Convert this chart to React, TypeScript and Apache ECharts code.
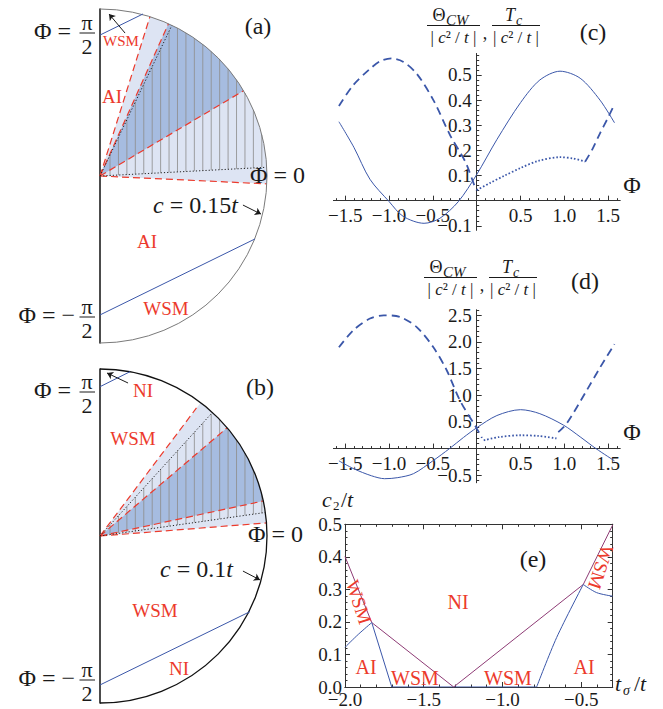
import React, { useEffect, useRef } from "react";
import * as echarts from "echarts";

// ---------------- Panel (a): c = 0.15t  (angles in degrees, radii in units of the circle) ----------------
const lightWedgeA = [-2.7, 72.6];
const darkWedgeA = [30.7, 65.8];
const redDashA = [[72.6, 1], [65.8, 1], [30.7, 1], [-2.7, 1]];
const dottedA = [[64.5, 1], [3.0, 0.99]];
const hatchA = [3.0, 64.5];
const blueChordsA = [
  [[0, 0.844], [0.257, 0.97]],
  [[0, -0.832], [0.928, -0.377]],
];
const arrowsA = [
  [[0.15, 0.856], [0.054, 0.97]],
  [[0.856, -0.174], [0.964, -0.228]],
];

// ---------------- Panel (b): c = 0.1t ----------------
const lightWedgeB = [4.5, 53];
const darkWedgeB = [12.1, 40.4];
const redDashB = [[53, 0.96], [40.4, 1], [12.1, 1], [4.5, 1]];
const dottedB = [[47.7, 1], [8.1, 1]];
const hatchB = [8.1, 47.7];
const blueChordsB = [
  [[0, 0.894], [0.18, 0.984]],
  [[0, -0.892], [0.898, -0.453]],
];
const arrowsB = [
  [[0.168, 0.916], [0.042, 0.976]],
  [[0.856, -0.21], [0.958, -0.263]],
];

// ---------------- Panel (c) ----------------
const solidC = [
  [-1.571, 0.314], [-1.4, 0.212], [-1.217, 0.085], [-1.0, -0.003], [-0.84, -0.062], [-0.6, -0.09],
  [-0.42, -0.07], [-0.21, -0.004], [0, 0.104], [0.23, 0.243], [0.5, 0.39], [0.72, 0.48],
  [0.95, 0.515], [1.18, 0.487], [1.406, 0.4], [1.571, 0.31],
];
const dashedC1 = [
  [-1.571, 0.377], [-1.407, 0.46], [-1.23, 0.52], [-1.1, 0.555], [-0.97, 0.566], [-0.84, 0.553],
  [-0.684, 0.505], [-0.494, 0.4], [-0.3, 0.258], [-0.13, 0.155], [-0.02, 0.055], [0, 0.042],
];
const dottedC = [
  [0, 0.042], [0.15, 0.07], [0.32, 0.1], [0.5, 0.13], [0.7, 0.158], [0.95, 0.173], [1.1, 0.168], [1.236, 0.155],
];
const dashedC2 = [[1.236, 0.155], [1.32, 0.205], [1.406, 0.268], [1.49, 0.325], [1.571, 0.383]];

// ---------------- Panel (d) ----------------
const solidD = [
  [-1.571, -0.23], [-1.4, -0.38], [-1.2, -0.51], [-1.05, -0.565], [-0.9, -0.545], [-0.72, -0.47],
  [-0.5, -0.23], [-0.31, 0.0], [-0.15, 0.21], [0, 0.39], [0.23, 0.62], [0.5, 0.73], [0.72, 0.655],
  [0.99, 0.44], [1.18, 0.22], [1.36, 0.0], [1.571, -0.23],
];
const dashedD1 = [
  [-1.571, 1.9], [-1.407, 2.22], [-1.217, 2.44], [-1.06, 2.5], [-0.875, 2.47], [-0.684, 2.28],
  [-0.494, 1.9], [-0.342, 1.47], [-0.19, 0.9], [0, 0.38], [0.06, 0.2],
];
const dottedD = [[0.08, 0.155], [0.25, 0.215], [0.5, 0.25], [0.7, 0.237], [0.91, 0.19]];
const dashedD2 = [[0.93, 0.31], [1.026, 0.47], [1.254, 1.09], [1.41, 1.53], [1.571, 1.96]];

// ---------------- Panel (e) ----------------
const purpleE = [[-2.0, 0.401], [-1.83, 0.198], [-1.31, 0.0], [-0.487, 0.315], [-0.3, 0.498]];
const blueE1 = [[-2.0, 0.122], [-1.915, 0.162], [-1.83, 0.198]];
const blueE2 = [[-1.83, 0.198], [-1.703, 0.0]];
const blueE3 = [[-0.783, 0.0], [-0.656, 0.152], [-0.487, 0.315]];
const blueE4 = [[-0.487, 0.315], [-0.402, 0.29], [-0.3, 0.279]];
const blueE5 = [[-1.703, 0.0], [-0.783, 0.0]];

// ---------------- Ticks ----------------
const range = (a: number, b: number, s: number) => {
  const out: number[] = [];
  const n = Math.round((b - a) / s);
  for (let i = 0; i <= n; i++) out.push(+(a + i * s).toFixed(4));
  return out;
};
const phiMajor = [-1.5, -1, -0.5, 0.5, 1, 1.5];
const phiMinor = range(-1.6, 1.6, 0.1);
const cMajor = [-0.1, 0.1, 0.2, 0.3, 0.4, 0.5];
const cMinor = range(-0.1, 0.58, 0.02);
const dMajor = [-0.5, 0.5, 1, 1.5, 2, 2.5];
const dMinor = range(-0.6, 2.6, 0.1);
const eXMajor = [-2, -1.5, -1, -0.5];
const eXMinor = range(-2, -0.3, 0.1);
const eYMajor = [0, 0.1, 0.2, 0.3, 0.4, 0.5];
const eYMinor = range(0, 0.5, 0.02);

// ---------------- Styles ----------------
const SERIF = "Liberation Serif";
const INK = "#1a1a1a";
const BLUE = "#3b57a9";
const PURPLE = "#8e3b75";
const RED = "#ec3a2c";
const LIGHT = "#dde4f3";
const DARK = "#a6bce0";
const HATCH = "#8f8f8f";
const AXC = "#333";
const D = Math.PI / 180;

const fmt = (v: number) => (v < 0 ? "\u2212" : "") + Math.abs(v).toFixed(1);

function txt(x: number, y: number, text: string, size: number, o: any = {}) {
  const rich = o.rich
    ? { i: { fontStyle: "italic", fontFamily: SERIF, fontSize: size, fill: o.color || INK } }
    : undefined;
  return {
    type: "text",
    x,
    y,
    rotation: o.rot || 0,
    z: 100,
    silent: true,
    style: {
      text,
      fill: o.color || INK,
      fontSize: size,
      fontFamily: SERIF,
      fontStyle: o.italic ? "italic" : "normal",
      align: o.align || "center",
      verticalAlign: "middle",
      rich,
    },
  };
}
function seg(x1: number, y1: number, x2: number, y2: number, w = 1) {
  return { type: "line", z: 100, silent: true, shape: { x1, y1, x2, y2 }, style: { stroke: INK, lineWidth: w } };
}

// ---------------- Semicircle panels ----------------
function wheel(ai: number, light: number[], dark: number[], reds: number[][], dots: number[][], hatch: number[],
  chords: number[][][], arrows: number[][][], arcColor: string, arcWidth: number) {
  const base = { type: "custom", coordinateSystem: "cartesian2d", xAxisIndex: ai, yAxisIndex: ai, silent: true, clip: false };
  const sector = (range2: number[], fill: string, z: number) => ({
    ...base,
    z,
    data: [range2],
    renderItem: (_p: any, api: any) => {
      const c = api.coord([0, 0]);
      const r = api.coord([1, 0])[0] - c[0];
      const a0 = api.value(0) * D;
      const a1 = api.value(1) * D;
      return {
        type: "sector",
        shape: { cx: c[0], cy: c[1], r0: 0, r, startAngle: -a1, endAngle: -a0, clockwise: true },
        style: { fill },
      };
    },
  });
  const rays = (data: number[][], stroke: string, dash: number[], w: number, z: number) => ({
    ...base,
    z,
    data,
    renderItem: (_p: any, api: any) => {
      const a = api.value(0) * D;
      const r = api.value(1);
      const p0 = api.coord([0, 0]);
      const p1 = api.coord([r * Math.cos(a), r * Math.sin(a)]);
      return {
        type: "line",
        shape: { x1: p0[0], y1: p0[1], x2: p1[0], y2: p1[1] },
        style: { stroke, lineWidth: w, lineDash: dash },
      };
    },
  });
  return [
    sector(light, LIGHT, 1),
    sector(dark, DARK, 2),
    {
      ...base,
      z: 3,
      data: [hatch],
      renderItem: (_p: any, api: any) => {
        const lo = api.value(0) * D;
        const hi = api.value(1) * D;
        const children: any[] = [];
        for (let x = 0.06; x < 1; x += 0.0505) {
          const y0 = x * Math.tan(lo);
          const y1 = Math.min(x * Math.tan(hi), Math.sqrt(1 - x * x));
          if (y1 <= y0) continue;
          const p0 = api.coord([x, y0]);
          const p1 = api.coord([x, y1]);
          children.push({
            type: "line",
            shape: { x1: p0[0], y1: p0[1], x2: p1[0], y2: p1[1] },
            style: { stroke: HATCH, lineWidth: 1, opacity: 0.85 },
          });
        }
        return { type: "group", children };
      },
    },
    rays(reds, RED, [7, 4], 1.2, 4),
    rays(dots, "#222", [1.2, 2], 1, 4),
    {
      ...base,
      z: 5,
      data: [[0, 0]],
      renderItem: (_p: any, api: any) => {
        const c = api.coord([0, 0]);
        const r = api.coord([1, 0])[0] - c[0];
        return {
          type: "arc",
          shape: { cx: c[0], cy: c[1], r, startAngle: -Math.PI / 2, endAngle: Math.PI / 2, clockwise: true },
          style: { stroke: arcColor, lineWidth: arcWidth, fill: "none" },
        };
      },
    },
    {
      type: "lines",
      coordinateSystem: "cartesian2d",
      xAxisIndex: ai,
      yAxisIndex: ai,
      z: 6,
      silent: true,
      symbol: "none",
      lineStyle: { color: BLUE, width: 1, opacity: 1 },
      data: chords.map((c) => ({ coords: c })),
    },
    {
      type: "lines",
      coordinateSystem: "cartesian2d",
      xAxisIndex: ai,
      yAxisIndex: ai,
      z: 6,
      silent: true,
      symbol: ["none", "arrow"],
      symbolSize: 6,
      lineStyle: { color: INK, width: 1, opacity: 1 },
      data: arrows.map((c) => ({ coords: c })),
    },
  ];
}

// ---------------- Axis helpers ----------------
function valAxis(grid: number, min: number, max: number, position: string, ticks: number[], tickLen: number,
  labels: number[] | null, o: any = {}) {
  return {
    gridIndex: grid,
    type: "value",
    min,
    max,
    position,
    axisLine: {
      show: true,
      onZero: o.onZero !== undefined,
      onZeroAxisIndex: o.onZero,
      lineStyle: { color: AXC, width: 1 },
    },
    axisTick: { show: true, inside: true, length: tickLen, customValues: ticks, lineStyle: { color: AXC, width: 1 } },
    axisLabel: labels
      ? {
          show: true,
          customValues: labels,
          formatter: fmt,
          fontFamily: SERIF,
          fontSize: 19,
          color: INK,
          margin: o.margin ?? 5,
        }
      : { show: false },
    splitLine: { show: false },
    minorTick: { show: false },
    minorSplitLine: { show: false },
  };
}
// axis that only carries tick labels (its grid edge sits on the other axis' zero)
function labelAxis(grid: number, min: number, max: number, position: string, labels: number[], margin: number) {
  return {
    gridIndex: grid,
    type: "value",
    min,
    max,
    position,
    axisLine: { show: false, onZero: false },
    axisTick: { show: false },
    splitLine: { show: false },
    axisLabel: {
      show: true,
      customValues: labels,
      formatter: fmt,
      fontFamily: SERIF,
      fontSize: 19,
      color: INK,
      margin,
    },
  };
}
const hidden = (g: number, min = 0, max = 1) => ({ gridIndex: g, type: "value", min, max, show: false });
const wheelY = (g: number) => ({
  gridIndex: g,
  type: "value",
  min: -1,
  max: 1,
  position: "left",
  axisLine: { show: true, onZero: false, lineStyle: { color: "#111", width: 1.5 } },
  axisTick: { show: false },
  axisLabel: { show: false },
  splitLine: { show: false },
});

function lineSeries(x: number, data: number[][], color: string, width: number, type: any, smooth: number | boolean) {
  return {
    type: "line",
    xAxisIndex: x,
    yAxisIndex: x,
    data,
    showSymbol: false,
    symbol: "none",
    smooth,
    silent: true,
    z: 3,
    lineStyle: { color, width, type, cap: "butt" },
  };
}

function fracTitle(dx: number, dy: number) {
  const den = "| {i|c}\u00b2 / {i|t} |";
  return [
    txt(439 + dx, 15 + dy, "\u0398", 18),
    txt(446 + dx, 20 + dy, "CW", 15, { italic: true, align: "left" }),
    seg(427 + dx, 25.5 + dy, 480 + dx, 25.5 + dy),
    txt(453.5 + dx, 37.5 + dy, den, 17, { rich: true }),
    txt(485 + dx, 33 + dy, ",", 18),
    txt(510 + dx, 15 + dy, "T", 18, { italic: true }),
    txt(516 + dx, 20 + dy, "c", 14, { italic: true, align: "left" }),
    seg(492 + dx, 25.5 + dy, 540 + dx, 25.5 + dy),
    txt(516 + dx, 37.5 + dy, den, 17, { rich: true }),
  ];
}

function phiLabel(yb: number, neg: boolean) {
  return [
    txt(neg ? 75 : 71, yb - 2, neg ? "\u03a6 = \u2212" : "\u03a6 =", 24, { align: "right" }),
    txt(87, yb - 11, "\u03c0", 22),
    seg(79.5, yb, 95, yb),
    txt(87, yb + 13, "2", 22),
  ];
}

// pixel layout of the Φ panels (c) and (d)
const PHI_L = 333.4;
const PHI_W = 286.6;
const ZERO_X = 476.7;
const C_TOP = 53.6, C_H = 176.5, C_ZERO_Y = 200.7;
const D_TOP = 310, D_H = 172.7, D_ZERO_Y = 448.6;

export default function App() {
  const ref = useRef<HTMLDivElement>(null);
  useEffect(() => {
    const chart = echarts.init(ref.current!, null, { renderer: "svg" });
    const option: any = {
      animation: false,
      backgroundColor: "#fff",
      grid: [
        { left: 100, top: 9, width: 167, height: 334 },
        { left: 100, top: 369, width: 167, height: 334 },
        { left: PHI_L, top: C_TOP, width: PHI_W, height: C_H },
        { left: PHI_L, top: D_TOP, width: PHI_W, height: D_H },
        { left: 345, top: 524.3, width: 267.7, height: 164 },
        // label carriers for (c)
        { left: PHI_L, top: C_TOP, width: PHI_W, height: C_ZERO_Y - C_TOP },
        { left: ZERO_X, top: C_TOP, width: PHI_L + PHI_W - ZERO_X, height: C_H },
        // label carriers for (d)
        { left: PHI_L, top: D_TOP, width: PHI_W, height: D_ZERO_Y - D_TOP },
        { left: ZERO_X, top: D_TOP, width: PHI_L + PHI_W - ZERO_X, height: D_H },
      ],
      xAxis: [
        hidden(0),
        hidden(1),
        valAxis(2, -1.634, 1.634, "bottom", phiMajor, 5, null, { onZero: 2 }),
        valAxis(2, -1.634, 1.634, "bottom", phiMinor, 2.5, null, { onZero: 2 }),
        valAxis(3, -1.634, 1.634, "bottom", phiMajor, 5, null, { onZero: 4 }),
        valAxis(3, -1.634, 1.634, "bottom", phiMinor, 2.5, null, { onZero: 4 }),
        valAxis(4, -2, -0.3, "bottom", eXMajor, 5, eXMajor, { margin: 3 }),
        valAxis(4, -2, -0.3, "bottom", eXMinor, 2.5, null),
        valAxis(4, -2, -0.3, "top", eXMajor, 5, null),
        valAxis(4, -2, -0.3, "top", eXMinor, 2.5, null),
        labelAxis(5, -1.634, 1.634, "bottom", phiMajor, 5),
        hidden(6),
        labelAxis(7, -1.634, 1.634, "bottom", phiMajor, 5),
        hidden(8),
      ],
      yAxis: [
        wheelY(0),
        wheelY(1),
        valAxis(2, -0.117, 0.585, "left", cMajor, 5, null, { onZero: 2 }),
        valAxis(2, -0.117, 0.585, "left", cMinor, 2.5, null, { onZero: 2 }),
        valAxis(3, -0.64, 2.6, "left", dMajor, 5, null, { onZero: 4 }),
        valAxis(3, -0.64, 2.6, "left", dMinor, 2.5, null, { onZero: 4 }),
        valAxis(4, 0, 0.5, "left", eYMajor, 5, eYMajor, { margin: 3 }),
        valAxis(4, 0, 0.5, "left", eYMinor, 2.5, null),
        valAxis(4, 0, 0.5, "right", eYMajor, 5, null),
        valAxis(4, 0, 0.5, "right", eYMinor, 2.5, null),
        hidden(5),
        labelAxis(6, -0.117, 0.585, "left", cMajor, 5),
        hidden(7),
        labelAxis(8, -0.64, 2.6, "left", dMajor, 5),
      ],
      series: [
        ...wheel(0, lightWedgeA, darkWedgeA, redDashA, dottedA, hatchA, blueChordsA, arrowsA, "#7a7a7a", 1),
        ...wheel(1, lightWedgeB, darkWedgeB, redDashB, dottedB, hatchB, blueChordsB, arrowsB, "#111", 1.3),
        lineSeries(2, solidC, BLUE, 1, "solid", 0.3),
        lineSeries(2, dashedC1, BLUE, 1.8, [8, 5], 0.3),
        lineSeries(2, dottedC, BLUE, 1.8, [1.6, 2], 0.3),
        lineSeries(2, dashedC2, BLUE, 1.8, [8, 5], 0.3),
        lineSeries(4, solidD, BLUE, 1, "solid", 0.3),
        lineSeries(4, dashedD1, BLUE, 1.8, [8, 5], 0.3),
        lineSeries(4, dottedD, BLUE, 1.8, [1.6, 2], 0.3),
        lineSeries(4, dashedD2, BLUE, 1.8, [8, 5], 0.3),
        lineSeries(6, blueE5, BLUE, 1, "solid", false),
        lineSeries(6, purpleE, PURPLE, 1, "solid", false),
        lineSeries(6, blueE1, BLUE, 1, "solid", 0.3),
        lineSeries(6, blueE2, BLUE, 1, "solid", false),
        lineSeries(6, blueE3, BLUE, 1, "solid", 0.3),
        lineSeries(6, blueE4, BLUE, 1, "solid", 0.3),
      ],
      graphic: {
        elements: [
          // panel (a)
          ...phiLabel(33, false),
          ...phiLabel(317, true),
          txt(250, 175, "\u03a6 = 0", 24, { align: "left" }),
          txt(153, 205, "{i|c} = 0.15{i|t}", 24, { align: "left", rich: true }),
          txt(258, 26, "(a)", 24),
          txt(121, 41, "WSM", 15, { color: RED }),
          txt(112, 96, "AI", 19, { color: RED }),
          txt(147, 241, "AI", 19, { color: RED }),
          txt(166, 308, "WSM", 19, { color: RED }),
          // panel (b)
          ...phiLabel(392, false),
          ...phiLabel(680, true),
          txt(248, 534, "\u03a6 = 0", 24, { align: "left" }),
          txt(160, 569, "{i|c} = 0.1{i|t}", 24, { align: "left", rich: true }),
          txt(260, 387, "(b)", 24),
          txt(143, 390, "NI", 19, { color: RED }),
          txt(133, 438, "WSM", 19, { color: RED }),
          txt(155, 610, "WSM", 19, { color: RED }),
          txt(179, 668, "NI", 19, { color: RED }),
          // panel (c)
          ...fracTitle(0, 0),
          txt(593, 32, "(c)", 24),
          txt(632, 185, "\u03a6", 24),
          // panel (d)
          ...fracTitle(-3, 252),
          txt(585, 281, "(d)", 24),
          txt(632, 432, "\u03a6", 24),
          // panel (e)
          txt(322, 499, "c", 22, { italic: true, align: "left" }),
          txt(333, 505, "2", 13, { align: "left" }),
          txt(341, 499, "/{i|t}", 22, { align: "left", rich: true }),
          txt(615, 683, "t", 22, { italic: true, align: "left" }),
          txt(623, 690, "\u03c3", 14, { italic: true, align: "left" }),
          txt(634, 683, "/{i|t}", 22, { align: "left", rich: true }),
          txt(533, 559, "(e)", 24),
          txt(458, 602, "NI", 20, { color: RED }),
          txt(366, 667, "AI", 20, { color: RED }),
          txt(415, 678, "WSM", 20, { color: RED }),
          txt(508, 678, "WSM", 20, { color: RED }),
          txt(584, 667, "AI", 20, { color: RED }),
          txt(359, 602, "WSM", 19, { color: RED, rot: -72 * D }),
          txt(601, 567, "WSM", 19, { color: RED, rot: -108 * D }),
        ],
      },
    };
    chart.setOption(option);
    return () => chart.dispose();
  }, []);
  return <div ref={ref} style={{ position: "fixed", left: 0, top: 0, width: 663, height: 709 }} />;
}
